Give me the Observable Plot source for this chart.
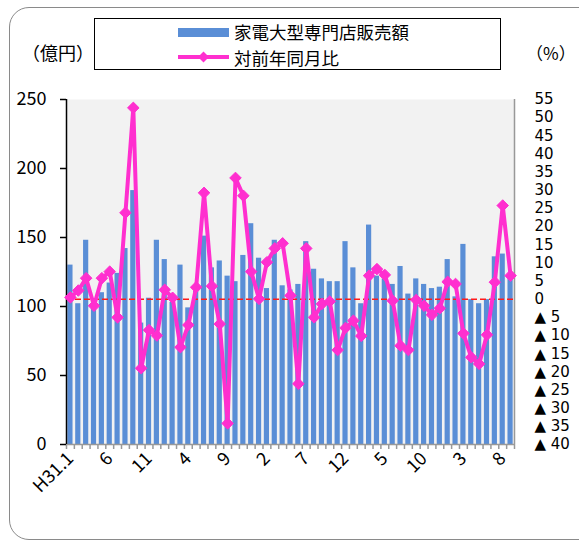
<!DOCTYPE html>
<html><head><meta charset="utf-8">
<script src="https://cdn.jsdelivr.net/npm/d3@7"></script>
<script src="https://cdn.jsdelivr.net/npm/@observablehq/plot@0.6"></script>
<style>
body{margin:0;background:#fff;font-family:"Noto Sans CJK JP","Noto Sans",sans-serif;}
#wrap{position:relative;width:579px;height:544px;overflow:hidden;background:#fff;}
#chart{position:absolute;left:0;top:0;}
.border{position:absolute;left:9px;top:7px;width:620px;height:533px;border:1.5px solid #8a8a8a;border-radius:20px;box-sizing:border-box;pointer-events:none;}
.unit{position:absolute;font-size:18px;color:#000;line-height:1;}
.legend{position:absolute;left:94px;top:18px;width:407px;height:52px;border:1.5px solid #000;box-sizing:border-box;background:#fff;}
.lg{position:absolute;font-size:17.5px;line-height:1;color:#000;}
</style></head><body>
<div id="wrap">
  <div id="chart"></div>
  <div class="border"></div>
  <div class="unit" style="left:22px;top:43px;">（億円）</div>
  <div class="unit" style="left:526px;top:44px;font-size:17px;">（%）</div>
  <div class="legend">
    <svg width="405" height="50" style="position:absolute;left:0;top:0">
      <rect x="83" y="9" width="51" height="9" fill="#5a8ed6"></rect>
      <line x1="83" y1="38" x2="134" y2="38" stroke="#ff2fcf" stroke-width="4"></line>
      <path d="M108.5,32.5 L114,38 L108.5,43.5 L103,38 Z" fill="#ff2fcf"></path>
    </svg>
    <div class="lg" style="left:139px;top:4px;">家電大型専門店販売額</div>
    <div class="lg" style="left:139px;top:30px;">対前年同月比</div>
  </div>
</div>
<script>
const months = ["2019/01","2019/02","2019/03","2019/04","2019/05","2019/06","2019/07","2019/08","2019/09","2019/10","2019/11","2019/12",
  "2020/01","2020/02","2020/03","2020/04","2020/05","2020/06","2020/07","2020/08","2020/09","2020/10","2020/11","2020/12",
  "2021/01","2021/02","2021/03","2021/04","2021/05","2021/06","2021/07","2021/08","2021/09","2021/10","2021/11","2021/12",
  "2022/01","2022/02","2022/03","2022/04","2022/05","2022/06","2022/07","2022/08","2022/09","2022/10","2022/11","2022/12",
  "2023/01","2023/02","2023/03","2023/04","2023/05","2023/06","2023/07","2023/08","2023/09"];
const sales = [130,102,148,103,110,117,124,142,184,88,106,148,
  134,103,130,99,111,151,128,133,122,118,137,160,
  135,113,148,115,112,116,147,127,120,118,118,147,
  128,102,159,122,120,116,129,109,120,116,113,114,
  134,107,145,105,102,105,136,138,122];
const yoy = [0.5,2.4,5.8,-1.8,5.8,7.6,-5,23.8,52.7,-19,-8.5,-10,
  2.6,0.4,-13.2,-7.1,3.3,29.3,3.6,-6.8,-34.2,33.4,28.5,7.6,
  0.1,10.2,14,15.4,1,-23.3,14,-5,-1.3,-0.6,-14,-7.9,
  -5.9,-10.1,6.5,8.3,6.7,-0.4,-12.8,-14,-0.2,-1.8,-4.3,-2.5,
  4.8,4.2,-9.4,-16,-17.8,-9.8,4.7,25.8,6.5];
const tickIdx = [0,5,10,15,20,25,30,35,40,45,50,55];
const tickLabels = ["H31.1","6","11","4","9","2","7","12","5","10","3","8"];
const leftTicks = [0,50,100,150,200,250];
const rightTicks = [55,50,45,40,35,30,25,20,15,10,5,0,-5,-10,-15,-20,-25,-30,-35,-40];

// right axis (-40..55 %) mapped onto left axis (0..250 億円)
const R0 = -40, R1 = 55, L1 = 250;
const toLeft = p => (p - R0) * L1 / (R1 - R0);
const fmtRight = v => { const p = Math.round(v * (R1 - R0) / L1 + R0); return p < 0 ? "▲ " + (-p) : String(p); };

const data = months.map((m, i) => ({i, m, sales: sales[i], yoy: yoy[i]}));
const n = months.length;
const bounds = d3.range(n + 1).map(k => k - 0.5);
const labelMap = new Map(tickIdx.map((t, k) => [t, tickLabels[k]]));
const font = "'Noto Sans CJK JP','Noto Sans',sans-serif";

const chart = Plot.plot({
  width: 579, height: 544,
  marginLeft: 66, marginRight: 65, marginTop: 99, marginBottom: 100,
  style: {fontFamily: font, background: "transparent", color: "#000"},
  x: {type: "linear", domain: [-0.5, n - 0.5], axis: null},
  y: {domain: [0, 250], axis: null},
  marks: [
    Plot.frame({fill: "#f2f2f2", stroke: null}),
    Plot.rectY(data, {x1: d => d.i - 0.33, x2: d => d.i + 0.33, y: "sales", fill: "#5a8ed6"}),
    Plot.ruleY([toLeft(0)], {stroke: "#ff1a1a", strokeWidth: 1.5, strokeDasharray: "6,3"}),
    Plot.ruleY([0], {stroke: "#999", strokeWidth: 1.5}),
    Plot.ruleX([n - 0.5], {stroke: "#999", strokeWidth: 1.5}),
    Plot.ruleX([-0.5], {stroke: "#000", strokeWidth: 1.5}),
    Plot.axisX(bounds, {label: null, tickSize: 5, stroke: "#999", strokeWidth: 1.5, tickFormat: () => ""}),
    Plot.axisX(tickIdx, {label: null, tickSize: 0, tickPadding: 11, tickRotate: -45, textAnchor: "end",
      tickFormat: d => labelMap.get(d), fontSize: 18, fill: "#000"}),
    Plot.axisY(leftTicks, {label: null, anchor: "left", tickSize: 6, tickPadding: 14, stroke: "#000", strokeWidth: 1.5, fontSize: 18, fill: "#000"}),
    Plot.axisY(rightTicks.map(toLeft), {label: null, anchor: "right", tickSize: 0, tickPadding: 20, textAnchor: "start",
      tickFormat: fmtRight, fontSize: 15, fontFamily: "'DejaVu Sans',sans-serif", fill: "#000"}),
    Plot.line(data, {x: "i", y: d => toLeft(d.yoy), stroke: "#ff2fcf", strokeWidth: 4, strokeLinejoin: "round"}),
    Plot.dot(data, {x: "i", y: d => toLeft(d.yoy), symbol: "diamond2", r: 5.2, fill: "#ff2fcf", stroke: "#ff2fcf", strokeWidth: 1})
  ]
});
document.getElementById("chart").appendChild(chart);
</script>
</body></html>
